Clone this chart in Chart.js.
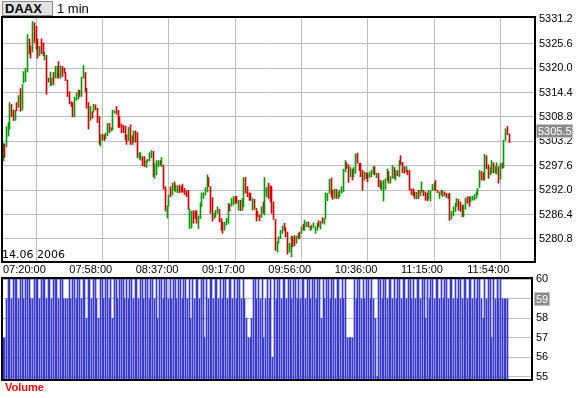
<!DOCTYPE html>
<html><head><meta charset="utf-8">
<script src="https://cdn.jsdelivr.net/npm/chart.js@4/dist/chart.umd.min.js"></script>
<style>
html,body{margin:0;padding:0;background:#fff;width:578px;height:398px;overflow:hidden;position:relative}
canvas{position:absolute;left:0}
#c1{top:0}
#c2{top:262px}
.sym{position:absolute;left:2px;top:1px;width:47px;height:13px;padding-left:2px;background:#e2e2e2;border:1px solid #8c8c8c;font:bold 13px 'Liberation Sans',sans-serif;line-height:13px;color:#000}
.per{position:absolute;left:57px;top:2px;font:13px 'Liberation Sans',sans-serif;line-height:13px;color:#000}
.date{position:absolute;left:2px;top:249px;font:11px 'DejaVu Sans',sans-serif;line-height:11px;color:#000}
.vol{position:absolute;left:5px;top:382px;font:bold 11px 'Liberation Sans',sans-serif;line-height:11px;color:#f00}
</style>
</head><body>
<canvas id="c1" width="578" height="280"></canvas>
<canvas id="c2" width="578" height="136"></canvas>
<div class="sym">DAAX</div>
<div class="per">1 min</div>
<div class="date">14.06 2006</div>
<div class="vol">Volume</div>
<script>
// ---- data ----
const timeLabels = ['07:20:00','07:58:00','08:37:00','09:17:00','09:56:00','10:36:00','11:15:00','11:54:00'];
const timeTickIndex = [0,38,76,114,152,190,228,266];
const priceTicks = [5280.8,5286.4,5292.0,5297.6,5303.2,5308.8,5314.4,5320.0,5325.6,5331.2];
const volumeTicks = [55,56,57,58,59,60];
const lastPrice = 5305.5;
const lastVolume = 59;

const highs = [
5302.8,5302.5,5306.6,5307.5,5312.1,5311.7,5310.4,5310.3,5312.1,5313.7,
5315.3,5316.3,5319.2,5320.0,5327.7,5326.7,5325.1,5330.7,5330.4,5329.6,
5326.7,5325.0,5326.7,5325.8,5323.6,5322.9,5317.7,5319.1,5317.7,5319.0,
5320.4,5320.4,5321.5,5320.5,5320.4,5320.0,5319.0,5317.3,5314.6,5312.3,
5312.1,5313.3,5314.4,5315.0,5314.9,5317.9,5320.6,5319.0,5315.4,5312.1,
5311.2,5310.0,5311.7,5311.6,5310.8,5308.9,5304.7,5304.8,5304.7,5305.1,
5307.3,5307.3,5306.3,5310.4,5310.2,5311.2,5310.3,5308.9,5307.2,5306.9,
5306.7,5304.7,5306.4,5307.0,5304.5,5305.6,5305.6,5305.2,5300.6,5300.6,
5299.7,5299.7,5298.8,5299.1,5300.6,5301.1,5300.9,5298.1,5298.8,5298.8,
5298.8,5299.5,5297.8,5292.8,5288.4,5290.9,5292.8,5293.6,5293.9,5293.2,
5293.0,5293.2,5292.9,5293.4,5292.4,5291.9,5292.0,5287.6,5287.2,5287.3,
5287.2,5287.3,5286.1,5289.1,5291.4,5291.4,5292.6,5295.5,5294.9,5292.8,
5290.3,5286.7,5287.4,5288.2,5287.6,5285.5,5284.7,5284.6,5285.5,5289.0,
5288.8,5290.1,5290.5,5290.6,5290.6,5289.7,5289.7,5290.1,5294.9,5294.9,
5292.8,5291.4,5291.3,5290.1,5289.9,5287.8,5287.1,5286.3,5288.2,5289.3,
5294.9,5292.6,5293.6,5293.0,5292.8,5289.3,5285.3,5280.2,5281.3,5282.8,
5283.8,5284.4,5283.4,5282.4,5279.8,5281.5,5281.3,5281.6,5281.5,5282.1,
5282.4,5283.6,5284.2,5285.1,5284.7,5284.7,5283.7,5284.0,5284.5,5283.6,
5284.4,5285.0,5284.8,5285.7,5285.5,5291.4,5291.3,5294.5,5294.8,5292.0,
5292.3,5292.2,5291.6,5292.0,5292.8,5296.8,5298.8,5298.3,5297.8,5297.2,
5296.8,5297.2,5300.3,5300.5,5298.2,5298.2,5296.6,5296.2,5296.0,5295.9,
5296.2,5296.6,5297.4,5297.4,5295.9,5295.9,5294.3,5293.9,5294.3,5294.6,
5296.9,5296.3,5295.1,5297.6,5297.2,5296.5,5296.5,5298.8,5299.9,5298.4,
5297.4,5297.4,5296.6,5296.5,5292.3,5292.3,5291.6,5291.5,5292.0,5292.0,
5293.9,5292.0,5291.6,5291.3,5292.0,5291.9,5293.3,5293.6,5294.2,5292.0,
5291.6,5292.0,5291.9,5291.6,5291.3,5291.1,5291.3,5287.1,5288.2,5289.0,
5290.1,5289.9,5289.3,5288.6,5288.6,5290.1,5290.5,5290.5,5290.5,5290.6,
5291.0,5291.6,5292.4,5296.5,5296.3,5296.0,5300.2,5299.9,5297.8,5297.2,
5298.8,5298.3,5297.4,5298.3,5297.4,5298.2,5298.2,5303.5,5306.1,5306.6,
5304.9];

const lows = [
5298.7,5299.5,5302.0,5304.4,5306.0,5308.9,5308.0,5308.0,5310.2,5311.0,
5310.1,5310.4,5316.6,5316.9,5319.1,5323.3,5322.3,5323.7,5325.9,5324.4,
5322.3,5322.8,5323.3,5322.8,5321.9,5314.0,5316.8,5316.0,5316.0,5316.2,
5317.7,5317.7,5317.7,5317.7,5318.1,5318.9,5317.1,5313.5,5311.8,5311.2,
5308.8,5308.8,5312.6,5312.9,5313.5,5313.5,5317.7,5314.6,5310.8,5306.0,
5308.0,5308.5,5310.0,5310.4,5307.5,5302.5,5302.1,5303.5,5303.4,5303.8,
5304.5,5305.2,5305.6,5305.8,5309.7,5309.4,5306.4,5306.4,5305.2,5305.2,
5303.5,5302.5,5303.4,5302.5,5302.5,5303.0,5303.0,5299.5,5299.1,5298.9,
5297.6,5297.4,5297.2,5298.4,5298.7,5299.4,5295.1,5294.7,5295.5,5297.4,
5297.8,5297.4,5292.2,5287.2,5285.6,5288.3,5290.5,5290.9,5292.0,5291.6,
5291.4,5291.4,5291.6,5291.5,5291.0,5290.5,5287.6,5283.2,5283.3,5284.4,
5285.5,5284.4,5283.2,5285.5,5288.3,5290.1,5290.9,5291.6,5292.8,5286.7,
5284.9,5285.5,5285.9,5286.7,5284.7,5282.8,5282.1,5282.8,5284.0,5284.4,
5287.3,5288.3,5288.6,5289.0,5289.0,5287.4,5287.3,5287.4,5288.2,5291.3,
5290.5,5289.7,5289.6,5287.4,5287.6,5284.9,5285.9,5285.0,5285.7,5286.7,
5286.3,5290.5,5290.1,5289.3,5286.7,5285.3,5278.2,5277.8,5279.8,5280.9,
5282.1,5282.7,5281.3,5277.3,5277.8,5276.7,5279.0,5279.2,5279.8,5280.8,
5280.9,5282.1,5282.8,5282.8,5283.6,5283.5,5282.8,5283.0,5283.5,5282.1,
5282.8,5283.6,5283.1,5284.4,5284.2,5285.5,5289.6,5291.3,5290.5,5289.9,
5290.1,5290.1,5290.1,5290.5,5291.3,5291.6,5296.2,5297.0,5293.8,5295.1,
5294.3,5295.1,5295.9,5298.2,5296.5,5295.1,5292.0,5294.3,5294.7,5293.9,
5294.9,5295.1,5295.7,5295.5,5294.9,5292.8,5292.4,5292.0,5289.5,5292.2,
5294.2,5293.6,5293.6,5294.7,5294.7,5294.3,5295.3,5295.1,5297.8,5296.0,
5295.9,5296.2,5295.5,5292.0,5291.0,5290.7,5290.1,5290.0,5290.1,5290.7,
5291.5,5290.7,5289.7,5289.6,5290.0,5289.5,5291.9,5292.1,5291.9,5291.4,
5290.1,5290.9,5290.5,5290.7,5290.3,5290.0,5285.1,5285.4,5286.1,5287.1,
5288.2,5287.4,5287.1,5285.9,5285.9,5287.6,5289.0,5288.3,5289.3,5289.7,
5289.7,5290.1,5290.9,5292.6,5294.3,5294.3,5294.3,5296.9,5294.7,5295.5,
5295.9,5296.0,5295.9,5295.7,5293.6,5294.5,5297.0,5297.2,5303.4,5304.7,
5302.9];

// G = closed up, R = closed down
const direction = (
'GRGGGRRGRG'+'RGGGGRRGRR'+'RGRRGRRGGR'+'GGRGRRRRRR'+'RGGGRGGRRR'+
'GRGRRRGRRG'+'GRGGGRRRRR'+'RRGRRGRRGG'+'RRGGGGRGGG'+'RGRRGGRGRG'+
'GRRRRRRGGR'+'RRGGGGGGRR'+'RGGGRRRGGG'+'RGGRRGRGGR'+'RRRGRRRRGR'+
'GGRRRRRGGG'+'GRRRGGRRGG'+'RGRGGRRGGG'+'GRGRGGGGRR'+'GRGGGGGRRG'+
'RGGRRRRGRR'+'GGGRGRRGGG'+'GRGGRGRGRR'+'RGRRRRRGRG'+'GRRRGGGGRR'+
'GRGRRGRGGG'+'GRRRGGRRGG'+'GGGGRRGRRG'+'GRGGRGRGGR'+'R').split('');

const volumes = [
57,57,59,60,60,59,60,60,60,59,60,60,59,60,60,60,59,59,60,60,
60,59,60,60,60,59,60,60,59,60,60,60,59,60,60,59,59,59,60,59,
60,60,59,60,60,59,60,60,58,60,60,59,60,60,59,58,60,60,59,60,
60,59,60,58,60,60,59,60,60,60,59,60,59,60,60,59,60,60,59,60,
60,59,60,60,59,60,60,59,60,58,60,60,59,60,60,59,60,59,60,60,
59,60,60,59,60,60,59,60,58,60,59,60,60,59,60,60,57,60,59,60,
60,59,60,60,59,60,59,60,60,59,60,60,59,60,59,60,60,59,60,59,
58,57,57,58,60,60,59,60,59,60,57,59,60,59,60,56,60,59,60,60,
59,60,60,59,60,60,59,60,60,59,60,59,60,60,59,60,60,59,60,60,
59,60,60,58,60,59,60,60,59,60,60,59,60,60,59,60,59,60,57,57,
57,57,60,59,60,60,59,60,59,60,60,59,60,59,58,55,60,60,59,60,
60,59,60,60,59,60,59,60,60,59,60,60,59,60,60,59,60,59,60,60,
59,60,60,58,60,59,60,60,59,60,60,59,60,59,60,60,59,60,60,59,
60,59,60,60,59,60,60,59,60,60,59,60,59,60,60,59,58,60,59,60,
60,57,60,59,60,59,60,59,59,59,59];

// ---- styling ----
const GREEN = '#009a00', RED = '#d00000', BLUE = '#3c3ccc', GRID = '#bdbdbd';
const tickFont = {family: "'Liberation Sans', sans-serif", size: 11};

// snap 1px bars onto whole device pixels so they stay crisp
const snapPlugin = {
  id: 'snap',
  beforeDatasetsDraw(chart) {
    chart.getDatasetMeta(0).data.forEach(el => { el.x = Math.floor(el.x) + 0.5; });
  }
};

const framePlugin = {
  id: 'frame',
  afterDraw(chart, args, opts) {
    const {ctx, chartArea: a} = chart;
    ctx.save();
    ctx.strokeStyle = '#000'; ctx.lineWidth = 2;
    ctx.strokeRect(a.left - 1, a.top - 1, a.right - a.left + 2, a.bottom - a.top + 2);
    const y = Math.round(chart.scales.y.getPixelForValue(opts.value));
    ctx.font = "11px 'Liberation Sans', sans-serif";
    const w = Math.ceil(ctx.measureText(opts.text).width) + 3;
    const x = Math.round(a.right) + opts.dx;
    ctx.fillStyle = '#8a8a8a'; ctx.fillRect(x, y - 7, w, 14);
    ctx.strokeStyle = '#c4c4c4'; ctx.lineWidth = 1; ctx.strokeRect(x + 0.5, y - 6.5, w - 1, 13);
    ctx.fillStyle = '#fff'; ctx.textBaseline = 'middle'; ctx.textAlign = 'left';
    ctx.fillText(opts.text, x + 2, y + 0.5);
    ctx.restore();
  }
};

function xScale(max, showLabels, height) {
  return {
    type: 'linear', min: 0, max: max, offset: false, display: true,
    afterBuildTicks: s => { s.ticks = timeTickIndex.map(v => ({value: v})); },
    afterFit: s => { s.height = height; s.paddingLeft = 0; s.paddingRight = 0; },
    grid: {color: GRID, lineWidth: 1, drawTicks: false},
    border: {display: false},
    ticks: {display: showLabels, align: 'start', padding: 2, maxRotation: 0, autoSkip: false,
            font: tickFont, color: '#000',
            callback: v => timeLabels[timeTickIndex.indexOf(v)]}
  };
}

Chart.defaults.animation = false;

new Chart(document.getElementById('c1'), {
  type: 'bar',
  data: {datasets: [{
    data: highs.map((h, i) => ({x: i, y: [lows[i], h]})),
    backgroundColor: direction.map(d => d === 'G' ? GREEN : RED),
    barThickness: 1, borderWidth: 0, grouped: false
  }]},
  options: {
    responsive: false, animation: false, events: [],
    layout: {padding: {left: 3, top: 18, right: 0, bottom: 0}},
    plugins: {legend: {display: false}, tooltip: {enabled: false},
              frame: {value: lastPrice, text: lastPrice.toFixed(1), dx: 2}},
    scales: {
      x: xScale(304.2, true, 19),
      y: {
        position: 'right', min: 5275.75, max: 5331.5, beginAtZero: false,
        afterBuildTicks: s => { s.ticks = priceTicks.map(v => ({value: v})); },
        afterFit: s => { s.width = 44; s.paddingTop = 0; s.paddingBottom = 0; },
        grid: {color: c => (c.tick && c.tick.value > 5331) ? 'rgba(0,0,0,0)' : GRID, lineWidth: 1, drawTicks: false},
        border: {display: false},
        ticks: {padding: 5, font: tickFont, color: '#000', callback: v => v.toFixed(1)}
      }
    }
  },
  plugins: [snapPlugin, framePlugin]
});

new Chart(document.getElementById('c2'), {
  type: 'bar',
  data: {datasets: [{
    data: volumes.map((v, i) => ({x: i, y: v})),
    backgroundColor: BLUE, barThickness: 1, borderWidth: 0, grouped: false
  }]},
  options: {
    responsive: false, animation: false, events: [],
    layout: {padding: {left: 3, top: 17, right: 0, bottom: 19}},
    plugins: {legend: {display: false}, tooltip: {enabled: false},
              frame: {value: lastVolume, text: String(lastVolume), dx: 3}},
    scales: {
      x: xScale(303.5, false, 0),
      y: {
        position: 'right', min: 54.88, max: 60.02, beginAtZero: false,
        afterBuildTicks: s => { s.ticks = volumeTicks.map(v => ({value: v})); },
        afterFit: s => { s.width = 47; s.paddingTop = 0; s.paddingBottom = 0; },
        grid: {color: GRID, lineWidth: 1, drawTicks: false},
        border: {display: false},
        ticks: {padding: 5, font: tickFont, color: '#000', callback: v => String(v)}
      }
    }
  },
  plugins: [snapPlugin, framePlugin]
});
</script>
</body></html>
